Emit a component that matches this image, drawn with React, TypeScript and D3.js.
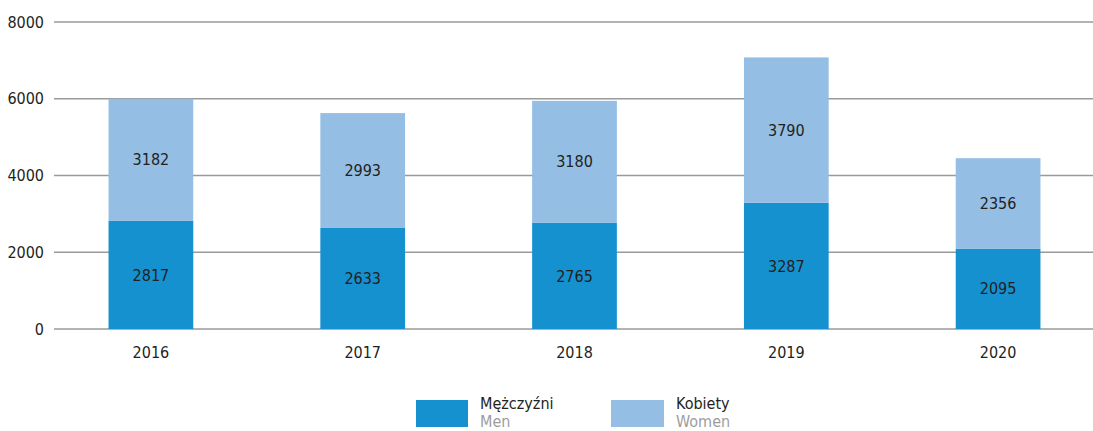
import React from "react";
import * as d3 from "d3";

const years = ["2016", "2017", "2018", "2019", "2020"];
const men = [2817, 2633, 2765, 3287, 2095];
const women = [3182, 2993, 3180, 3790, 2356];
const yTicks = [0, 2000, 4000, 6000, 8000];

const W = 1093;
const H = 431;
const FONT = "'Liberation Sans Narrow', 'DejaVu Sans Condensed', 'Roboto Condensed', 'Open Sans', sans-serif";
const MEN_C = "#1591d0";
const WOMEN_C = "#94bee3";
const TEXT_C = "#231f20";
const FS = 16;

export default function App() {
  const x = d3.scaleBand<string>().domain(years).range([45, 1104]).paddingInner(0.6).paddingOuter(0.3);
  const y = d3.scaleLinear().domain([0, 8000]).range([329, 22]);
  const bw = x.bandwidth();

  return (
    <svg width={W} height={H} style={{ position: "absolute", left: 0, top: 0 }} fontFamily={FONT}>
      {yTicks.map((t) => (
        <g key={t}>
          <line x1={54} x2={W} y1={y(t)} y2={y(t)} stroke="#9a9a9a" strokeWidth={1.5} />
          <text x={44} y={y(t)} dy="0.35em" textAnchor="end" fontSize={FS} fill={TEXT_C}>
            {t}
          </text>
        </g>
      ))}
      {years.map((yr, i) => {
        const x0 = x(yr)!;
        const mTop = y(men[i]);
        const wTop = y(men[i] + women[i]);
        return (
          <g key={yr}>
            <rect x={x0} y={mTop} width={bw} height={y(0) - mTop} fill={MEN_C} />
            <rect x={x0} y={wTop} width={bw} height={mTop - wTop} fill={WOMEN_C} />
            <text x={x0 + bw / 2} y={(mTop + y(0)) / 2} dy="0.35em" textAnchor="middle" fontSize={FS} fill={TEXT_C}>
              {men[i]}
            </text>
            <text x={x0 + bw / 2} y={(wTop + mTop) / 2} dy="0.35em" textAnchor="middle" fontSize={FS} fill={TEXT_C}>
              {women[i]}
            </text>
            <text x={x0 + bw / 2} y={352} dy="0.35em" textAnchor="middle" fontSize={FS} fill={TEXT_C}>
              {yr}
            </text>
          </g>
        );
      })}
      <g>
        <rect x={416} y={400} width={52} height={27} fill={MEN_C} />
        <text x={480} y={409} fontSize={FS} fill={TEXT_C}>Mężczyźni</text>
        <text x={480} y={427} fontSize={FS} fill="#9d9d9d">Men</text>
        <rect x={611} y={400} width={53} height={27} fill={WOMEN_C} />
        <text x={676} y={409} fontSize={FS} fill={TEXT_C}>Kobiety</text>
        <text x={676} y={427} fontSize={FS} fill="#9d9d9d">Women</text>
      </g>
    </svg>
  );
}
